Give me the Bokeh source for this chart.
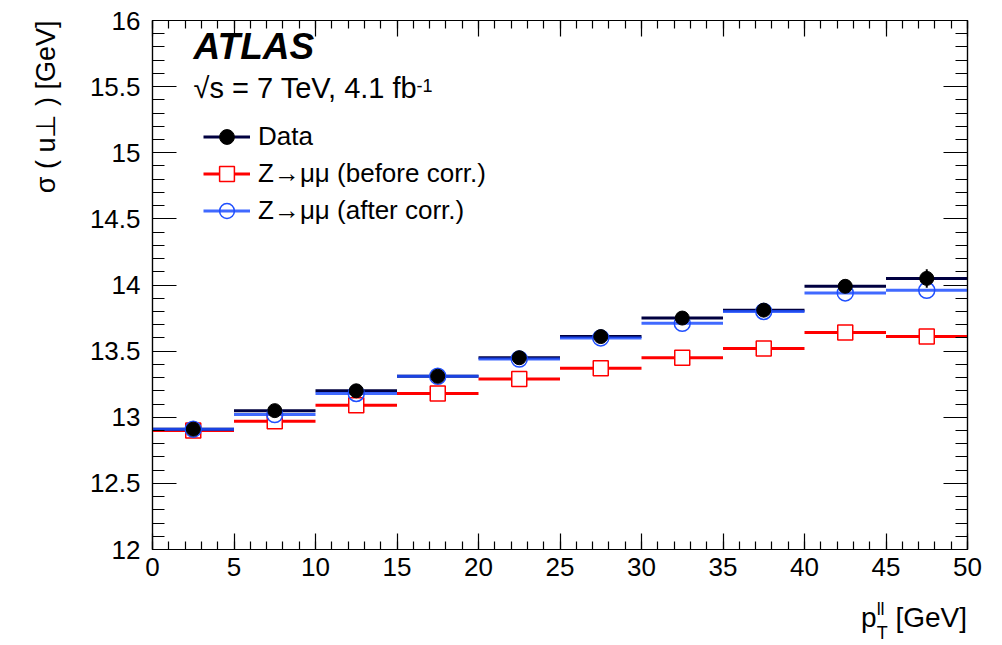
import math
from bokeh.plotting import figure
from bokeh.layouts import column
from bokeh.models import (Range1d, LinearAxis, Label, Legend, LegendItem,
                          ColumnDataSource, FixedTicker, Title, Div)
from bokeh.embed import file_html
from bokeh.resources import INLINE

# ---- data -----------------------------------------------------------
bin_lo = [0, 5, 10, 15, 20, 25, 30, 35, 40, 45]
bin_hi = [5, 10, 15, 20, 25, 30, 35, 40, 45, 50]
bin_center = [2.5, 7.5, 12.5, 17.5, 22.5, 27.5, 32.5, 37.5, 42.5, 47.5]
data_sigma = [12.91, 13.05, 13.20, 13.31, 13.45, 13.61, 13.75, 13.81, 13.99, 14.05]
data_err = [0.02, 0.02, 0.02, 0.02, 0.025, 0.025, 0.03, 0.03, 0.05, 0.07]
mc_before = [12.90, 12.97, 13.09, 13.18, 13.29, 13.37, 13.45, 13.52, 13.64, 13.61]
mc_after = [12.91, 13.02, 13.18, 13.31, 13.44, 13.60, 13.71, 13.80, 13.94, 13.96]
x_ticks = [0, 5, 10, 15, 20, 25, 30, 35, 40, 45, 50]
y_ticks = [12, 12.5, 13, 13.5, 14, 14.5, 15, 15.5, 16]

FONT = "Liberation Sans"
RED = "#ff0000"
BLUE = "#1f4fff"

src = ColumnDataSource(dict(
    lo=bin_lo, hi=bin_hi, xc=bin_center,
    d=data_sigma,
    dlo=[v - e for v, e in zip(data_sigma, data_err)],
    dhi=[v + e for v, e in zip(data_sigma, data_err)],
    b=mc_before, a=mc_after,
))

p = figure(frame_width=815, frame_height=529,
           x_range=Range1d(0, 50), y_range=Range1d(12, 16),
           output_backend="svg", toolbar_location=None,
           min_border_left=152, min_border_right=27,
           min_border_top=20, min_border_bottom=45,
           x_axis_location=None, y_axis_location=None)
p.xgrid.visible = False
p.ygrid.visible = False
p.outline_line_color = "black"
p.outline_line_width = 1.2
p.background_fill_color = "white"
p.border_fill_color = "white"

def style_axis(ax, ticks, major_len, minor_len, labels=True):
    step = (ticks[1] - ticks[0]) / 5
    ax.ticker = FixedTicker(ticks=ticks,
                            minor_ticks=[round(ticks[0] + i * step, 3)
                                         for i in range(5 * (len(ticks) - 1) + 1)])
    ax.major_tick_in = major_len
    ax.major_tick_out = 0
    ax.minor_tick_in = minor_len
    ax.minor_tick_out = 0
    ax.axis_line_color = "black"
    ax.major_tick_line_color = "black"
    ax.minor_tick_line_color = "black"
    ax.axis_line_width = 1.2
    ax.major_tick_line_width = 1.2
    ax.minor_tick_line_width = 1.2
    if labels:
        ax.major_label_text_font = FONT
        ax.major_label_text_font_size = "26px"
        ax.major_label_text_color = "black"
    else:
        ax.major_label_overrides = {t: "" for t in ticks}
        ax.major_label_text_font_size = "1px"
        ax.major_label_standoff = 0

xb = LinearAxis()
style_axis(xb, x_ticks, 16, 8)
xb.major_label_standoff = 8
p.add_layout(xb, "below")

xt = LinearAxis()
style_axis(xt, x_ticks, 16, 8, labels=False)
p.add_layout(xt, "above")

yl = LinearAxis()
style_axis(yl, y_ticks, 24, 12)
yl.major_label_standoff = 12
yl.major_label_orientation = "horizontal"
p.add_layout(yl, "left")

yr = LinearAxis()
style_axis(yr, y_ticks, 24, 12, labels=False)
p.add_layout(yr, "right")

# y-axis title (aligned at the top end, ROOT style)
p.add_layout(Title(text="\u03c3 ( u\u22a5 ) [GeV]", align="right",
                   text_font=FONT, text_font_size="27px",
                   text_font_style="normal", text_color="black",
                   standoff=52), "left")

# ---- glyphs ---------------------------------------------------------
r_seg = p.segment(x0="lo", x1="hi", y0="b", y1="b", source=src,
                  line_color=RED, line_width=3)
r_mk = p.scatter(x="xc", y="b", source=src, marker="square", size=15,
                 fill_color="white", line_color=RED, line_width=1.5)
d_seg = p.segment(x0="lo", x1="hi", y0="d", y1="d", source=src,
                  line_color="#000040", line_width=3)
d_err = p.segment(x0="xc", x1="xc", y0="dlo", y1="dhi", source=src,
                  line_color="black", line_width=2)
b_seg = p.segment(x0="lo", x1="hi", y0="a", y1="a", source=src,
                  line_color=BLUE, line_width=3, line_alpha=0.85)
b_mk = p.scatter(x="xc", y="a", source=src, marker="circle", size=16,
                 fill_color="white", fill_alpha=0.0, line_color=BLUE, line_width=1.5)
d_mk = p.scatter(x="xc", y="d", source=src, marker="circle", size=14,
                 fill_color="black", line_color="black")

legend = Legend(items=[
    LegendItem(label="Data", renderers=[d_seg, d_mk]),
    LegendItem(label="Z\u2192\u03bc\u03bc (before corr.)", renderers=[r_seg, r_mk]),
    LegendItem(label="Z\u2192\u03bc\u03bc (after corr.)", renderers=[b_seg, b_mk]),
], location=(51, 320))
legend.background_fill_alpha = 0
legend.border_line_color = None
legend.padding = 0
legend.margin = 0
legend.spacing = 0
legend.glyph_width = 47
legend.glyph_height = 37
legend.label_height = 37
legend.label_standoff = 8
legend.label_text_font = FONT
legend.label_text_font_size = "26px"
legend.label_text_color = "black"
p.add_layout(legend, "center")

# ---- texts inside the frame ----------------------------------------
p.add_layout(Label(x=2.52, y=15.652, text="ATLAS", text_font=FONT,
                   text_font_size="37px", text_font_style="bold italic",
                   text_color="black"))
p.add_layout(Label(x=2.52, y=15.365, text="\u221as = 7 TeV, 4.1 fb", text_font=FONT,
                   text_font_size="29px", text_color="black"))
p.add_layout(Label(x=16.2, y=15.456, text="-1", text_font=FONT,
                   text_font_size="18px", text_color="black"))

# ---- x-axis title (right aligned, below the plot) -------------------
xtitle = Div(width=967, height=51, text=(
    "<div style=\"width:962px;text-align:right;font-family:'Liberation Sans';"
    "font-size:28px;line-height:28px;padding-top:5px;color:black;white-space:nowrap;\">"
    "p<span style=\"position:relative;top:-12px;font-size:18px;\">ll</span>"
    "<span style=\"position:relative;top:12px;left:-8px;margin-right:-8px;font-size:18px;\">T</span>"
    " [GeV]</div>"))

layout = column(p, xtitle, spacing=0)
open("out.html", "w").write(file_html(layout, INLINE))
